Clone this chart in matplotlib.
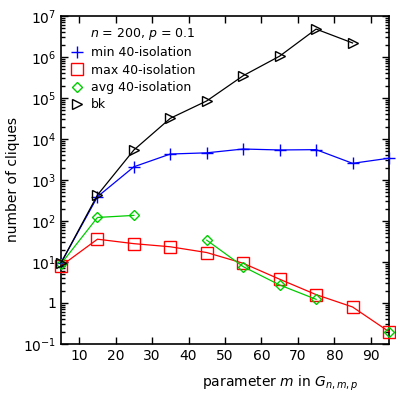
import matplotlib
matplotlib.use("Agg")
import matplotlib.pyplot as plt
import numpy as np
from matplotlib.ticker import LogLocator, NullFormatter

m = [5, 15, 25, 35, 45, 55, 65, 75, 85, 95]
bk = [9.5, 430, 5400, 32000, 85000, 350000, 1.05e6, 4.8e6, 2.2e6, np.nan]
min_iso = [9.5, 390, 2100, 4300, 4600, 5700, 5400, 5500, 2550, 3400]
max_iso = [8, 36, 28, 23.5, 17, 9.3, 3.8, 1.6, 0.8, 0.2]
avg_iso = [9, 122, 137, np.nan, 34, 7.7, 2.75, 1.23, np.nan, 0.2]

ytick_vals = [1e-1, 1, 1e1, 1e2, 1e3, 1e4, 1e5, 1e6, 1e7]
ytick_labels = ['$10^{-1}$', '1', '$10^{1}$', '$10^{2}$', '$10^{3}$',
                '$10^{4}$', '$10^{5}$', '$10^{6}$', '$10^{7}$']

plt.rcParams['font.size'] = 10
plt.rcParams['mathtext.fontset'] = 'dejavusans'

fig = plt.figure(figsize=(3.96, 3.94), dpi=100)
ax = fig.add_axes([61/396, 1-344/394, 328/396, 328/394])

ax.plot(m, min_iso, color='blue', marker='+', ms=9, mew=1, lw=0.9,
        label='min 40-isolation', clip_on=False, zorder=3)
ax.plot(m, max_iso, color='red', marker='s', ms=8.5, mfc='none', mew=1, lw=0.9,
        label='max 40-isolation', clip_on=False, zorder=3)
ax.plot(m, avg_iso, color='#00cc00', marker='D', ms=5.5, mfc='none', mew=1, lw=0.9,
        label='avg 40-isolation', clip_on=False, zorder=3)
ax.plot(m, bk, color='black', marker='>', ms=7, mfc='none', mew=1, lw=0.9,
        label='bk', clip_on=False, zorder=3)

ax.set_yscale('log')
ax.set_xlim(5, 95)
ax.set_ylim(1e-1, 1e7)
ax.set_xticks(range(10, 100, 10))
ax.set_yticks(ytick_vals)
ax.set_yticklabels(ytick_labels)
ax.yaxis.set_minor_locator(LogLocator(base=10, subs=np.arange(2, 10), numticks=20))
ax.yaxis.set_minor_formatter(NullFormatter())
ax.tick_params(which='both', direction='in', top=True, right=True, width=1)
ax.tick_params(which='major', length=5)
ax.tick_params(which='minor', length=3)
for s in ax.spines.values():
    s.set_linewidth(1.2)

ax.set_ylabel('number of cliques', fontsize=10)
ax.yaxis.set_label_coords(-0.125, 0.5)
ax.set_xlabel('parameter $m$ in $G_{n,m,p}$', fontsize=10)
ax.xaxis.set_label_coords(0.67, -0.09)

leg = ax.legend(loc='upper left', frameon=False, fontsize=9,
                title='$n$ = 200, $p$ = 0.1', title_fontsize=9,
                handlelength=1.0, handletextpad=0.6, labelspacing=0.35,
                borderaxespad=0.4)
leg._legend_box.align = 'right'
for h in leg.legend_handles:
    h.set_linestyle('none')

fig.savefig('out.png', dpi=100)
